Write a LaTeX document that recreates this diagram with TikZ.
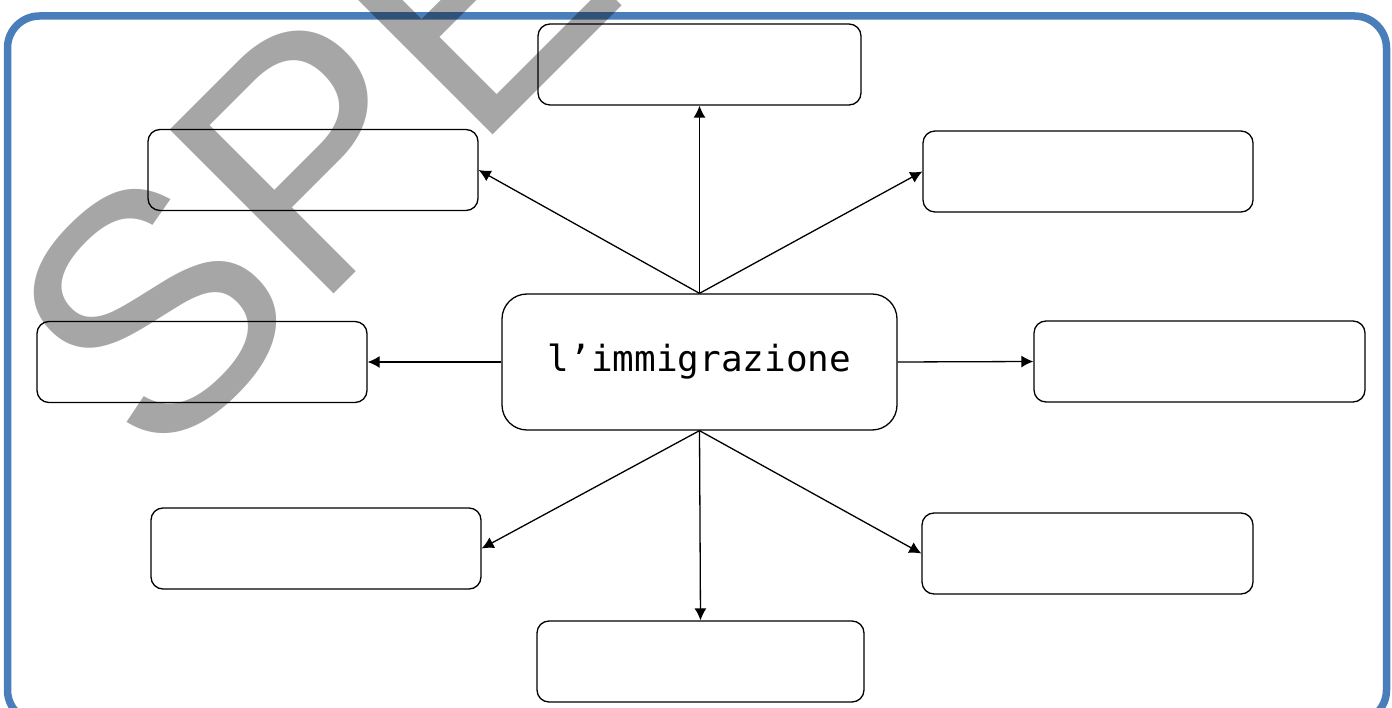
\documentclass[tikz,border=0pt]{standalone}
\usepackage{fontspec}
\newfontfamily\monofont{DejaVu Sans Mono}
\newfontfamily\wmfont{Liberation Sans}
\usetikzlibrary{arrows.meta}
\definecolor{frameblue}{HTML}{4A7EBB}
\tikzset{
  box/.style={draw, line width=1.3pt, rounded corners=12pt, minimum width=330pt, minimum height=81pt, inner sep=0pt},
  hub/.style={draw, line width=1.3pt, rounded corners=25pt, minimum width=395pt, minimum height=136pt, inner sep=0pt, font=\monofont\fontsize{36}{40}\selectfont},
  link/.style={line width=1.3pt, -{Latex[length=12pt,width=12pt]}}
}
\begin{document}
\begin{tikzpicture}[x=1pt,y=1pt]
\useasboundingbox (0,0) rectangle (1392,707);
\clip (0,0) rectangle (1392,707);
\fill[white] (0,0) rectangle (1392,707);
\draw[line width=7.5pt, frameblue, rounded corners=32pt] (7.5,-15) rectangle (1386.5,691);

\node[hub] (c) at (699.5,345) {l’immigrazione};
\node[box, minimum width=323pt] (t) at (699.5,642.5) {};
\node[box] (ul) at (313,537) {};
\node[box] (ur) at (1088,535.5) {};
\node[box] (l) at (202,345) {};
\node[box, minimum width=331pt] (r) at (1199.5,345.5) {};
\node[box] (ll) at (316,158.5) {};
\node[box, minimum width=331pt] (lr) at (1087.5,153.5) {};
\node[box, minimum width=327pt] (b) at (700.5,45.5) {};

\draw[link] (c.north) -- (t.south);
\draw[link] (c.north) -- (ul.east);
\draw[link] (c.north) -- (ur.west);
\draw[link] (c.west) -- (l.east);
\draw[link] (c.east) -- (r.west);
\draw[link] (c.south) -- (ll.east);
\draw[link] (c.south) -- (b.north);
\draw[link] (c.south) -- (lr.west);

\begin{scope}[shift={(155,234)}, rotate=45]
  \node[anchor=base west, inner sep=0pt, transform shape, text=black, text opacity=0.35, font=\wmfont\fontsize{337}{340}\selectfont] (wm) at (0,0) {SPE};
\end{scope}
\end{tikzpicture}
\end{document}
